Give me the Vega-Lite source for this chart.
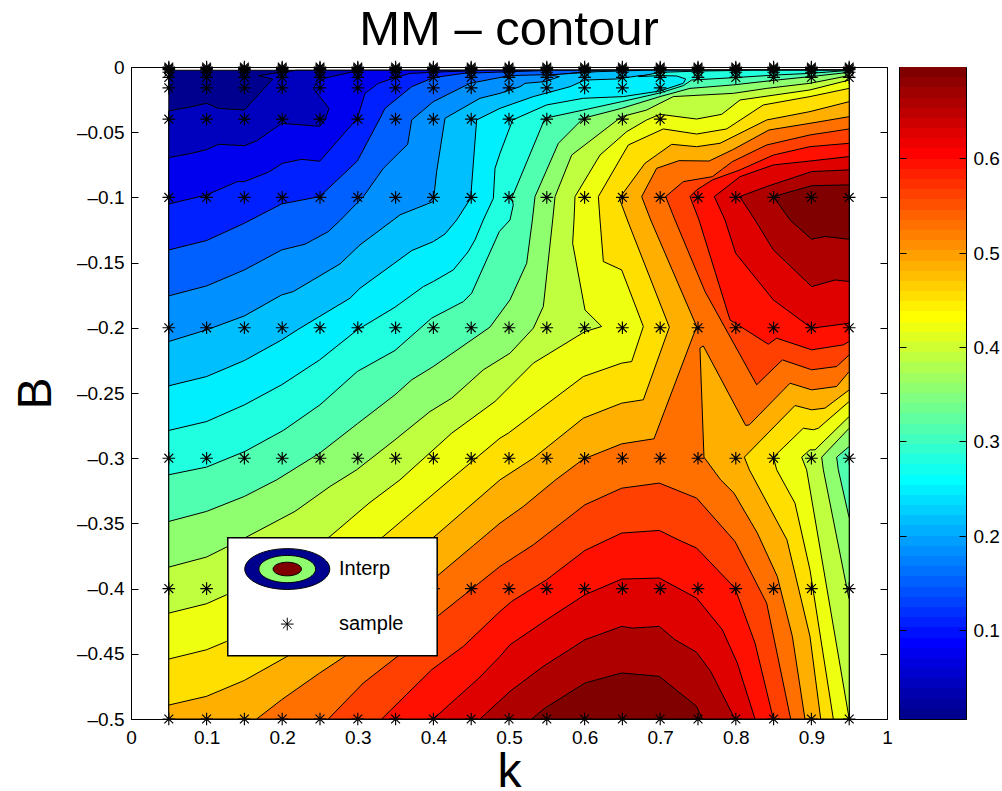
{"$schema":"https://vega.github.io/schema/vega-lite/v6.json","background":"white","padding":{"left":11,"top":5,"right":2,"bottom":0},"spacing":5,"config":{"view":{"stroke":"black","strokeWidth":1},"axis":{"grid":false,"domain":false,"labelFlush":false,"tickColor":"black","tickWidth":1,"labelFont":"Liberation Sans","labelFontSize":19,"labelColor":"black","titleFont":"Liberation Sans","titleFontSize":48,"titleFontWeight":"normal","titleColor":"black"}},"datasets":{"polys":[
{"l":0,"p":"0","k":0.05,"B":-0.0025},{"l":0,"p":"0","k":0.95,"B":-0.0025},{"l":0,"p":"0","k":0.95,"B":-0.5},{"l":0,"p":"0","k":0.05,"B":-0.5},{"l":0,"p":"0","k":0.05,"B":-0.0025},
{"l":1,"p":"1","k":0.05,"B":-0.0337},{"l":1,"p":"1","k":0.0802,"B":-0.0304},{"l":1,"p":"1","k":0.1,"B":-0.0278},{"l":1,"p":"1","k":0.1155,"B":-0.0317},{"l":1,"p":"1","k":0.15,"B":-0.033},{"l":1,"p":"1","k":0.1874,"B":-0.0092},{"l":1,"p":"1","k":0.1684,"B":-0.0066},{"l":1,"p":"1","k":0.1883,"B":-0.0049},{"l":1,"p":"1","k":0.2191,"B":-0.0025},{"l":1,"p":"1","k":0.95,"B":-0.0025},{"l":1,"p":"1","k":0.95,"B":-0.5},{"l":1,"p":"1","k":0.05,"B":-0.5},{"l":1,"p":"1","k":0.05,"B":-0.0337},
{"l":2,"p":"2","k":0.05,"B":-0.0695},{"l":2,"p":"2","k":0.0802,"B":-0.0662},{"l":2,"p":"2","k":0.1,"B":-0.0634},{"l":2,"p":"2","k":0.1155,"B":-0.0593},{"l":2,"p":"2","k":0.15,"B":-0.0603},{"l":2,"p":"2","k":0.1662,"B":-0.0567},{"l":2,"p":"2","k":0.1993,"B":-0.0432},{"l":2,"p":"2","k":0.2496,"B":-0.0455},{"l":2,"p":"2","k":0.2566,"B":-0.0406},{"l":2,"p":"2","k":0.2619,"B":-0.0317},{"l":2,"p":"2","k":0.2412,"B":-0.0164},{"l":2,"p":"2","k":0.2456,"B":-0.0125},{"l":2,"p":"2","k":0.2588,"B":-0.0082},{"l":2,"p":"2","k":0.2941,"B":-0.0036},{"l":2,"p":"2","k":0.3,"B":-0.0025},{"l":2,"p":"2","k":0.95,"B":-0.0025},{"l":2,"p":"2","k":0.95,"B":-0.5},{"l":2,"p":"2","k":0.05,"B":-0.5},{"l":2,"p":"2","k":0.05,"B":-0.0695},
{"l":3,"p":"3","k":0.05,"B":-0.105},{"l":3,"p":"3","k":0.1,"B":-0.0981},{"l":3,"p":"3","k":0.1407,"B":-0.0879},{"l":3,"p":"3","k":0.15,"B":-0.0879},{"l":3,"p":"3","k":0.1817,"B":-0.0807},{"l":3,"p":"3","k":0.2006,"B":-0.0738},{"l":3,"p":"3","k":0.2258,"B":-0.0708},{"l":3,"p":"3","k":0.2496,"B":-0.0723},{"l":3,"p":"3","k":0.2994,"B":-0.0393},{"l":3,"p":"3","k":0.3095,"B":-0.0202},{"l":3,"p":"3","k":0.3272,"B":-0.0125},{"l":3,"p":"3","k":0.3492,"B":-0.0082},{"l":3,"p":"3","k":0.3691,"B":-0.0049},{"l":3,"p":"3","k":0.4176,"B":-0.0036},{"l":3,"p":"3","k":0.47,"B":-0.0025},{"l":3,"p":"3","k":0.95,"B":-0.0025},{"l":3,"p":"3","k":0.95,"B":-0.5},{"l":3,"p":"3","k":0.05,"B":-0.5},{"l":3,"p":"3","k":0.05,"B":-0.105},
{"l":4,"p":"4","k":0.05,"B":-0.1403},{"l":4,"p":"4","k":0.1,"B":-0.1331},{"l":4,"p":"4","k":0.15,"B":-0.1198},{"l":4,"p":"4","k":0.1993,"B":-0.105},{"l":4,"p":"4","k":0.2496,"B":-0.0994},{"l":4,"p":"4","k":0.2994,"B":-0.0721},{"l":4,"p":"4","k":0.3294,"B":-0.0393},{"l":4,"p":"4","k":0.336,"B":-0.0317},{"l":4,"p":"4","k":0.3713,"B":-0.0151},{"l":4,"p":"4","k":0.3999,"B":-0.0082},{"l":4,"p":"4","k":0.4396,"B":-0.0049},{"l":4,"p":"4","k":0.5013,"B":-0.0036},{"l":4,"p":"4","k":0.56,"B":-0.0025},{"l":4,"p":"4","k":0.95,"B":-0.0025},{"l":4,"p":"4","k":0.95,"B":-0.5},{"l":4,"p":"4","k":0.05,"B":-0.5},{"l":4,"p":"4","k":0.05,"B":-0.1403},
{"l":5,"p":"5","k":0.05,"B":-0.1755},{"l":5,"p":"5","k":0.1,"B":-0.1679},{"l":5,"p":"5","k":0.15,"B":-0.1556},{"l":5,"p":"5","k":0.1993,"B":-0.1403},{"l":5,"p":"5","k":0.2302,"B":-0.1359},{"l":5,"p":"5","k":0.261,"B":-0.1262},{"l":5,"p":"5","k":0.2773,"B":-0.1173},{"l":5,"p":"5","k":0.3073,"B":-0.0994},{"l":5,"p":"5","k":0.3338,"B":-0.0777},{"l":5,"p":"5","k":0.3537,"B":-0.0662},{"l":5,"p":"5","k":0.366,"B":-0.0593},{"l":5,"p":"5","k":0.3713,"B":-0.0406},{"l":5,"p":"5","k":0.3999,"B":-0.0266},{"l":5,"p":"5","k":0.4484,"B":-0.0125},{"l":5,"p":"5","k":0.5013,"B":-0.0066},{"l":5,"p":"5","k":0.5675,"B":-0.0056},{"l":5,"p":"5","k":0.62,"B":-0.0025},{"l":5,"p":"5","k":0.95,"B":-0.0025},{"l":5,"p":"5","k":0.95,"B":-0.5},{"l":5,"p":"5","k":0.05,"B":-0.5},{"l":5,"p":"5","k":0.05,"B":-0.1755},
{"l":6,"p":"6","k":0.05,"B":-0.2105},{"l":6,"p":"6","k":0.1,"B":-0.2016},{"l":6,"p":"6","k":0.15,"B":-0.1909},{"l":6,"p":"6","k":0.1993,"B":-0.1748},{"l":6,"p":"6","k":0.2147,"B":-0.1722},{"l":6,"p":"6","k":0.2765,"B":-0.151},{"l":6,"p":"6","k":0.3029,"B":-0.1364},{"l":6,"p":"6","k":0.347,"B":-0.1173},{"l":6,"p":"6","k":0.3558,"B":-0.1134},{"l":6,"p":"6","k":0.3999,"B":-0.1032},{"l":6,"p":"6","k":0.4043,"B":-0.0802},{"l":6,"p":"6","k":0.4154,"B":-0.0393},{"l":6,"p":"6","k":0.4616,"B":-0.024},{"l":6,"p":"6","k":0.4881,"B":-0.0202},{"l":6,"p":"6","k":0.5146,"B":-0.0151},{"l":6,"p":"6","k":0.5212,"B":-0.0125},{"l":6,"p":"6","k":0.5476,"B":-0.0112},{"l":6,"p":"6","k":0.5666,"B":-0.0074},{"l":6,"p":"6","k":0.5543,"B":-0.0061},{"l":6,"p":"6","k":0.616,"B":-0.0036},{"l":6,"p":"6","k":0.68,"B":-0.0025},{"l":6,"p":"6","k":0.95,"B":-0.0025},{"l":6,"p":"6","k":0.95,"B":-0.5},{"l":6,"p":"6","k":0.05,"B":-0.5},{"l":6,"p":"6","k":0.05,"B":-0.2105},
{"l":7,"p":"7","k":0.05,"B":-0.2445},{"l":7,"p":"7","k":0.1,"B":-0.2374},{"l":7,"p":"7","k":0.15,"B":-0.2251},{"l":7,"p":"7","k":0.1993,"B":-0.2093},{"l":7,"p":"7","k":0.2236,"B":-0.2003},{"l":7,"p":"7","k":0.2897,"B":-0.1773},{"l":7,"p":"7","k":0.3029,"B":-0.1697},{"l":7,"p":"7","k":0.3713,"B":-0.1408},{"l":7,"p":"7","k":0.3999,"B":-0.1339},{"l":7,"p":"7","k":0.4154,"B":-0.128},{"l":7,"p":"7","k":0.4308,"B":-0.1173},{"l":7,"p":"7","k":0.4493,"B":-0.1007},{"l":7,"p":"7","k":0.4572,"B":-0.0406},{"l":7,"p":"7","k":0.4881,"B":-0.0317},{"l":7,"p":"7","k":0.5322,"B":-0.0227},{"l":7,"p":"7","k":0.5807,"B":-0.0151},{"l":7,"p":"7","k":0.6005,"B":-0.01},{"l":7,"p":"7","k":0.6424,"B":-0.0092},{"l":7,"p":"7","k":0.6733,"B":-0.0066},{"l":7,"p":"7","k":0.7483,"B":-0.0036},{"l":7,"p":"7","k":0.8,"B":-0.0025},{"l":7,"p":"7","k":0.95,"B":-0.0025},{"l":7,"p":"7","k":0.95,"B":-0.5},{"l":7,"p":"7","k":0.05,"B":-0.5},{"l":7,"p":"7","k":0.05,"B":-0.2445},
{"l":8,"p":"8","k":0.05,"B":-0.2787},{"l":8,"p":"8","k":0.1,"B":-0.2719},{"l":8,"p":"8","k":0.15,"B":-0.2591},{"l":8,"p":"8","k":0.1993,"B":-0.2437},{"l":8,"p":"8","k":0.2496,"B":-0.2246},{"l":8,"p":"8","k":0.2994,"B":-0.2016},{"l":8,"p":"8","k":0.3492,"B":-0.1842},{"l":8,"p":"8","k":0.3867,"B":-0.1684},{"l":8,"p":"8","k":0.3999,"B":-0.1645},{"l":8,"p":"8","k":0.4264,"B":-0.1556},{"l":8,"p":"8","k":0.4462,"B":-0.1415},{"l":8,"p":"8","k":0.455,"B":-0.1326},{"l":8,"p":"8","k":0.466,"B":-0.1173},{"l":8,"p":"8","k":0.4793,"B":-0.1007},{"l":8,"p":"8","k":0.4815,"B":-0.0777},{"l":8,"p":"8","k":0.4881,"B":-0.0662},{"l":8,"p":"8","k":0.5048,"B":-0.0406},{"l":8,"p":"8","k":0.5498,"B":-0.0291},{"l":8,"p":"8","k":0.5983,"B":-0.024},{"l":8,"p":"8","k":0.6512,"B":-0.0227},{"l":8,"p":"8","k":0.6997,"B":-0.0184},{"l":8,"p":"8","k":0.7306,"B":-0.0125},{"l":8,"p":"8","k":0.7337,"B":-0.0092},{"l":8,"p":"8","k":0.7218,"B":-0.0069},{"l":8,"p":"8","k":0.6997,"B":-0.0066},{"l":8,"p":"8","k":0.6711,"B":-0.0074},{"l":8,"p":"8","k":0.6997,"B":-0.0041},{"l":8,"p":"8","k":0.7526,"B":-0.0031},{"l":8,"p":"8","k":0.82,"B":-0.0025},{"l":8,"p":"8","k":0.95,"B":-0.0025},{"l":8,"p":"8","k":0.95,"B":-0.5},{"l":8,"p":"8","k":0.05,"B":-0.5},{"l":8,"p":"8","k":0.05,"B":-0.2787},
{"l":9,"p":"9","k":0.05,"B":-0.3127},{"l":9,"p":"9","k":0.1,"B":-0.3068},{"l":9,"p":"9","k":0.1508,"B":-0.2948},{"l":9,"p":"9","k":0.2015,"B":-0.2787},{"l":9,"p":"9","k":0.25,"B":-0.2591},{"l":9,"p":"9","k":0.2994,"B":-0.2335},{"l":9,"p":"9","k":0.3492,"B":-0.2174},{"l":9,"p":"9","k":0.3977,"B":-0.1926},{"l":9,"p":"9","k":0.4396,"B":-0.1799},{"l":9,"p":"9","k":0.4506,"B":-0.1735},{"l":9,"p":"9","k":0.4872,"B":-0.1262},{"l":9,"p":"9","k":0.5013,"B":-0.1173},{"l":9,"p":"9","k":0.5057,"B":-0.1058},{"l":9,"p":"9","k":0.5035,"B":-0.1007},{"l":9,"p":"9","k":0.5476,"B":-0.0393},{"l":9,"p":"9","k":0.5983,"B":-0.033},{"l":9,"p":"9","k":0.649,"B":-0.0266},{"l":9,"p":"9","k":0.6997,"B":-0.0199},{"l":9,"p":"9","k":0.7306,"B":-0.0143},{"l":9,"p":"9","k":0.7416,"B":-0.01},{"l":9,"p":"9","k":0.7967,"B":-0.0082},{"l":9,"p":"9","k":0.8541,"B":-0.0061},{"l":9,"p":"9","k":0.8981,"B":-0.0049},{"l":9,"p":"9","k":0.95,"B":-0.0026},{"l":9,"p":"9","k":0.95,"B":-0.5},{"l":9,"p":"9","k":0.05,"B":-0.5},{"l":9,"p":"9","k":0.05,"B":-0.3127},
{"l":10,"p":"10","k":0.05,"B":-0.3485},{"l":10,"p":"10","k":0.1,"B":-0.3408},{"l":10,"p":"10","k":0.15,"B":-0.3293},{"l":10,"p":"10","k":0.1927,"B":-0.3166},{"l":10,"p":"10","k":0.2496,"B":-0.2961},{"l":10,"p":"10","k":0.2994,"B":-0.2736},{"l":10,"p":"10","k":0.3492,"B":-0.2514},{"l":10,"p":"10","k":0.3713,"B":-0.2399},{"l":10,"p":"10","k":0.3999,"B":-0.2297},{"l":10,"p":"10","k":0.4748,"B":-0.1995},{"l":10,"p":"10","k":0.5013,"B":-0.1786},{"l":10,"p":"10","k":0.5234,"B":-0.1505},{"l":10,"p":"10","k":0.5309,"B":-0.1173},{"l":10,"p":"10","k":0.5344,"B":-0.0994},{"l":10,"p":"10","k":0.5653,"B":-0.0585},{"l":10,"p":"10","k":0.5983,"B":-0.0393},{"l":10,"p":"10","k":0.649,"B":-0.0317},{"l":10,"p":"10","k":0.6997,"B":-0.0227},{"l":10,"p":"10","k":0.7394,"B":-0.0164},{"l":10,"p":"10","k":0.7954,"B":-0.0138},{"l":10,"p":"10","k":0.8541,"B":-0.01},{"l":10,"p":"10","k":0.8981,"B":-0.0074},{"l":10,"p":"10","k":0.95,"B":-0.0041},{"l":10,"p":"10","k":0.95,"B":-0.291},{"l":10,"p":"10","k":0.9334,"B":-0.2992},{"l":10,"p":"10","k":0.9356,"B":-0.3089},{"l":10,"p":"10","k":0.95,"B":-0.3459},{"l":10,"p":"10","k":0.95,"B":-0.5},{"l":10,"p":"10","k":0.05,"B":-0.5},{"l":10,"p":"10","k":0.05,"B":-0.3485},
{"l":11,"p":"11","k":0.05,"B":-0.3835},{"l":11,"p":"11","k":0.1,"B":-0.3758},{"l":11,"p":"11","k":0.15,"B":-0.3613},{"l":11,"p":"11","k":0.2169,"B":-0.3408},{"l":11,"p":"11","k":0.2632,"B":-0.3217},{"l":11,"p":"11","k":0.2985,"B":-0.3089},{"l":11,"p":"11","k":0.3492,"B":-0.2859},{"l":11,"p":"11","k":0.3955,"B":-0.2642},{"l":11,"p":"11","k":0.4242,"B":-0.254},{"l":11,"p":"11","k":0.4661,"B":-0.2322},{"l":11,"p":"11","k":0.5013,"B":-0.2195},{"l":11,"p":"11","k":0.5322,"B":-0.2003},{"l":11,"p":"11","k":0.5454,"B":-0.1837},{"l":11,"p":"11","k":0.5578,"B":-0.1173},{"l":11,"p":"11","k":0.5609,"B":-0.0994},{"l":11,"p":"11","k":0.5829,"B":-0.0675},{"l":11,"p":"11","k":0.649,"B":-0.0381},{"l":11,"p":"11","k":0.6821,"B":-0.033},{"l":11,"p":"11","k":0.6997,"B":-0.0278},{"l":11,"p":"11","k":0.7174,"B":-0.0227},{"l":11,"p":"11","k":0.7967,"B":-0.0202},{"l":11,"p":"11","k":0.8409,"B":-0.0164},{"l":11,"p":"11","k":0.8981,"B":-0.0125},{"l":11,"p":"11","k":0.95,"B":-0.0066},{"l":11,"p":"11","k":0.95,"B":-0.277},{"l":11,"p":"11","k":0.9136,"B":-0.2992},{"l":11,"p":"11","k":0.9158,"B":-0.3089},{"l":11,"p":"11","k":0.95,"B":-0.4086},{"l":11,"p":"11","k":0.95,"B":-0.5},{"l":11,"p":"11","k":0.05,"B":-0.5},{"l":11,"p":"11","k":0.05,"B":-0.3835},
{"l":12,"p":"12","k":0.05,"B":-0.4188},{"l":12,"p":"12","k":0.1,"B":-0.4116},{"l":12,"p":"12","k":0.1265,"B":-0.4047},{"l":12,"p":"12","k":0.1993,"B":-0.383},{"l":12,"p":"12","k":0.2632,"B":-0.36},{"l":12,"p":"12","k":0.3148,"B":-0.3345},{"l":12,"p":"12","k":0.3558,"B":-0.3166},{"l":12,"p":"12","k":0.4242,"B":-0.2808},{"l":12,"p":"12","k":0.4815,"B":-0.2565},{"l":12,"p":"12","k":0.5322,"B":-0.2271},{"l":12,"p":"12","k":0.6005,"B":-0.2029},{"l":12,"p":"12","k":0.6226,"B":-0.199},{"l":12,"p":"12","k":0.6005,"B":-0.1863},{"l":12,"p":"12","k":0.5842,"B":-0.1352},{"l":12,"p":"12","k":0.586,"B":-0.1173},{"l":12,"p":"12","k":0.5873,"B":-0.0994},{"l":12,"p":"12","k":0.6204,"B":-0.0675},{"l":12,"p":"12","k":0.6556,"B":-0.0496},{"l":12,"p":"12","k":0.6821,"B":-0.0406},{"l":12,"p":"12","k":0.6997,"B":-0.0363},{"l":12,"p":"12","k":0.7482,"B":-0.0399},{"l":12,"p":"12","k":0.7813,"B":-0.0363},{"l":12,"p":"12","k":0.8056,"B":-0.0253},{"l":12,"p":"12","k":0.8981,"B":-0.0176},{"l":12,"p":"12","k":0.95,"B":-0.01},{"l":12,"p":"12","k":0.95,"B":-0.268},{"l":12,"p":"12","k":0.9048,"B":-0.2936},{"l":12,"p":"12","k":0.8981,"B":-0.2936},{"l":12,"p":"12","k":0.8871,"B":-0.2992},{"l":12,"p":"12","k":0.8937,"B":-0.3089},{"l":12,"p":"12","k":0.95,"B":-0.5},{"l":12,"p":"12","k":0.05,"B":-0.5},{"l":12,"p":"12","k":0.05,"B":-0.4188},
{"l":13,"p":"13","k":0.05,"B":-0.454},{"l":13,"p":"13","k":0.1,"B":-0.4469},{"l":13,"p":"13","k":0.1265,"B":-0.4405},{"l":13,"p":"13","k":0.3338,"B":-0.36},{"l":13,"p":"13","k":0.422,"B":-0.3166},{"l":13,"p":"13","k":0.4881,"B":-0.2846},{"l":13,"p":"13","k":0.4991,"B":-0.2808},{"l":13,"p":"13","k":0.5983,"B":-0.2374},{"l":13,"p":"13","k":0.649,"B":-0.2271},{"l":13,"p":"13","k":0.6623,"B":-0.2259},{"l":13,"p":"13","k":0.6777,"B":-0.199},{"l":13,"p":"13","k":0.649,"B":-0.1556},{"l":13,"p":"13","k":0.6248,"B":-0.1492},{"l":13,"p":"13","k":0.6204,"B":-0.1173},{"l":13,"p":"13","k":0.6182,"B":-0.0994},{"l":13,"p":"13","k":0.6578,"B":-0.0598},{"l":13,"p":"13","k":0.7041,"B":-0.0475},{"l":13,"p":"13","k":0.7482,"B":-0.0514},{"l":13,"p":"13","k":0.7879,"B":-0.0475},{"l":13,"p":"13","k":0.8364,"B":-0.0291},{"l":13,"p":"13","k":0.8981,"B":-0.0227},{"l":13,"p":"13","k":0.95,"B":-0.0164},{"l":13,"p":"13","k":0.95,"B":-0.2565},{"l":13,"p":"13","k":0.9092,"B":-0.277},{"l":13,"p":"13","k":0.9026,"B":-0.2782},{"l":13,"p":"13","k":0.8893,"B":-0.277},{"l":13,"p":"13","k":0.8497,"B":-0.2992},{"l":13,"p":"13","k":0.8541,"B":-0.3089},{"l":13,"p":"13","k":0.8783,"B":-0.3345},{"l":13,"p":"13","k":0.8981,"B":-0.3856},{"l":13,"p":"13","k":0.929,"B":-0.5},{"l":13,"p":"13","k":0.05,"B":-0.5},{"l":13,"p":"13","k":0.05,"B":-0.454},
{"l":14,"p":"14","k":0.05,"B":-0.4893},{"l":14,"p":"14","k":0.1,"B":-0.4826},{"l":14,"p":"14","k":0.15,"B":-0.4704},{"l":14,"p":"14","k":0.2081,"B":-0.4515},{"l":14,"p":"14","k":0.4043,"B":-0.3587},{"l":14,"p":"14","k":0.4881,"B":-0.3166},{"l":14,"p":"14","k":0.5322,"B":-0.3},{"l":14,"p":"14","k":0.5983,"B":-0.2693},{"l":14,"p":"14","k":0.649,"B":-0.2578},{"l":14,"p":"14","k":0.6777,"B":-0.2552},{"l":14,"p":"14","k":0.7121,"B":-0.1995},{"l":14,"p":"14","k":0.6565,"B":-0.1173},{"l":14,"p":"14","k":0.6459,"B":-0.1007},{"l":14,"p":"14","k":0.6799,"B":-0.0738},{"l":14,"p":"14","k":0.7152,"B":-0.0593},{"l":14,"p":"14","k":0.7482,"B":-0.0611},{"l":14,"p":"14","k":0.7791,"B":-0.0585},{"l":14,"p":"14","k":0.8409,"B":-0.0406},{"l":14,"p":"14","k":0.8981,"B":-0.0342},{"l":14,"p":"14","k":0.95,"B":-0.0266},{"l":14,"p":"14","k":0.95,"B":-0.2476},{"l":14,"p":"14","k":0.918,"B":-0.2616},{"l":14,"p":"14","k":0.9004,"B":-0.2629},{"l":14,"p":"14","k":0.8783,"B":-0.2596},{"l":14,"p":"14","k":0.8113,"B":-0.2992},{"l":14,"p":"14","k":0.8179,"B":-0.3089},{"l":14,"p":"14","k":0.8677,"B":-0.3626},{"l":14,"p":"14","k":0.8981,"B":-0.4366},{"l":14,"p":"14","k":0.9123,"B":-0.5},{"l":14,"p":"14","k":0.05,"B":-0.5},{"l":14,"p":"14","k":0.05,"B":-0.4893},
{"l":15,"p":"15","k":0.1662,"B":-0.5},{"l":15,"p":"15","k":0.1993,"B":-0.4852},{"l":15,"p":"15","k":0.2496,"B":-0.4647},{"l":15,"p":"15","k":0.284,"B":-0.4515},{"l":15,"p":"15","k":0.4043,"B":-0.3907},{"l":15,"p":"15","k":0.4881,"B":-0.3498},{"l":15,"p":"15","k":0.519,"B":-0.337},{"l":15,"p":"15","k":0.5617,"B":-0.3166},{"l":15,"p":"15","k":0.5983,"B":-0.3007},{"l":15,"p":"15","k":0.649,"B":-0.289},{"l":15,"p":"15","k":0.6918,"B":-0.2851},{"l":15,"p":"15","k":0.7482,"B":-0.199},{"l":15,"p":"15","k":0.6874,"B":-0.1173},{"l":15,"p":"15","k":0.6755,"B":-0.0994},{"l":15,"p":"15","k":0.6953,"B":-0.0777},{"l":15,"p":"15","k":0.7249,"B":-0.0718},{"l":15,"p":"15","k":0.7646,"B":-0.0721},{"l":15,"p":"15","k":0.7954,"B":-0.0636},{"l":15,"p":"15","k":0.8439,"B":-0.0483},{"l":15,"p":"15","k":0.8981,"B":-0.0432},{"l":15,"p":"15","k":0.95,"B":-0.0381},{"l":15,"p":"15","k":0.95,"B":-0.2335},{"l":15,"p":"15","k":0.9334,"B":-0.245},{"l":15,"p":"15","k":0.9004,"B":-0.2476},{"l":15,"p":"15","k":0.8717,"B":-0.2425},{"l":15,"p":"15","k":0.8179,"B":-0.2744},{"l":15,"p":"15","k":0.8131,"B":-0.2749},{"l":15,"p":"15","k":0.757,"B":-0.2139},{"l":15,"p":"15","k":0.7526,"B":-0.2156},{"l":15,"p":"15","k":0.7579,"B":-0.2992},{"l":15,"p":"15","k":0.78,"B":-0.3166},{"l":15,"p":"15","k":0.7976,"B":-0.3268},{"l":15,"p":"15","k":0.8285,"B":-0.3574},{"l":15,"p":"15","k":0.8549,"B":-0.3907},{"l":15,"p":"15","k":0.8748,"B":-0.4366},{"l":15,"p":"15","k":0.8915,"B":-0.5},{"l":15,"p":"15","k":0.1662,"B":-0.5},
{"l":16,"p":"16a","k":0.95,"B":-0.0475},{"l":16,"p":"16a","k":0.8981,"B":-0.0521},{"l":16,"p":"16a","k":0.8408,"B":-0.0598},{"l":16,"p":"16a","k":0.7954,"B":-0.0726},{"l":16,"p":"16a","k":0.769,"B":-0.0841},{"l":16,"p":"16a","k":0.7306,"B":-0.0879},{"l":16,"p":"16a","k":0.7072,"B":-0.0994},{"l":16,"p":"16a","k":0.7196,"B":-0.1173},{"l":16,"p":"16a","k":0.7593,"B":-0.1722},{"l":16,"p":"16a","k":0.8276,"B":-0.2437},{"l":16,"p":"16a","k":0.8616,"B":-0.2246},{"l":16,"p":"16a","k":0.9004,"B":-0.2322},{"l":16,"p":"16a","k":0.9334,"B":-0.2297},{"l":16,"p":"16a","k":0.95,"B":-0.2208},{"l":16,"p":"16a","k":0.95,"B":-0.0475},
{"l":16,"p":"16b","k":0.261,"B":-0.5},{"l":16,"p":"16b","k":0.3073,"B":-0.4724},{"l":16,"p":"16b","k":0.3536,"B":-0.4515},{"l":16,"p":"16b","k":0.4052,"B":-0.4213},{"l":16,"p":"16b","k":0.4881,"B":-0.383},{"l":16,"p":"16b","k":0.5322,"B":-0.3664},{"l":16,"p":"16b","k":0.6005,"B":-0.3357},{"l":16,"p":"16b","k":0.649,"B":-0.323},{"l":16,"p":"16b","k":0.6988,"B":-0.3191},{"l":16,"p":"16b","k":0.7482,"B":-0.3306},{"l":16,"p":"16b","k":0.7989,"B":-0.3638},{"l":16,"p":"16b","k":0.8408,"B":-0.4111},{"l":16,"p":"16b","k":0.8726,"B":-0.5},{"l":16,"p":"16b","k":0.261,"B":-0.5},
{"l":17,"p":"17a","k":0.95,"B":-0.0585},{"l":17,"p":"17a","k":0.8981,"B":-0.0611},{"l":17,"p":"17a","k":0.8497,"B":-0.0675},{"l":17,"p":"17a","k":0.8056,"B":-0.0789},{"l":17,"p":"17a","k":0.769,"B":-0.0866},{"l":17,"p":"17a","k":0.7482,"B":-0.0943},{"l":17,"p":"17a","k":0.7394,"B":-0.0994},{"l":17,"p":"17a","k":0.7513,"B":-0.1173},{"l":17,"p":"17a","k":0.7923,"B":-0.1939},{"l":17,"p":"17a","k":0.843,"B":-0.2126},{"l":17,"p":"17a","k":0.8541,"B":-0.208},{"l":17,"p":"17a","k":0.9004,"B":-0.2169},{"l":17,"p":"17a","k":0.9422,"B":-0.2131},{"l":17,"p":"17a","k":0.95,"B":-0.2105},{"l":17,"p":"17a","k":0.95,"B":-0.0585},
{"l":17,"p":"17b","k":0.3316,"B":-0.5},{"l":17,"p":"17b","k":0.3977,"B":-0.4622},{"l":17,"p":"17b","k":0.4396,"B":-0.4443},{"l":17,"p":"17b","k":0.4881,"B":-0.4175},{"l":17,"p":"17b","k":0.5035,"B":-0.4098},{"l":17,"p":"17b","k":0.5498,"B":-0.3932},{"l":17,"p":"17b","k":0.6005,"B":-0.3707},{"l":17,"p":"17b","k":0.649,"B":-0.3574},{"l":17,"p":"17b","k":0.6988,"B":-0.3554},{"l":17,"p":"17b","k":0.7284,"B":-0.3638},{"l":17,"p":"17b","k":0.7482,"B":-0.3689},{"l":17,"p":"17b","k":0.7989,"B":-0.3996},{"l":17,"p":"17b","k":0.8254,"B":-0.4418},{"l":17,"p":"17b","k":0.8497,"B":-0.5},{"l":17,"p":"17b","k":0.3316,"B":-0.5},
{"l":18,"p":"18a","k":0.95,"B":-0.0687},{"l":18,"p":"18a","k":0.8981,"B":-0.0721},{"l":18,"p":"18a","k":0.8497,"B":-0.0751},{"l":18,"p":"18a","k":0.8056,"B":-0.0841},{"l":18,"p":"18a","k":0.7716,"B":-0.0994},{"l":18,"p":"18a","k":0.7857,"B":-0.1173},{"l":18,"p":"18a","k":0.7998,"B":-0.1428},{"l":18,"p":"18a","k":0.8497,"B":-0.1786},{"l":18,"p":"18a","k":0.9004,"B":-0.2003},{"l":18,"p":"18a","k":0.95,"B":-0.1965},{"l":18,"p":"18a","k":0.95,"B":-0.0687},
{"l":18,"p":"18b","k":0.3999,"B":-0.5},{"l":18,"p":"18b","k":0.4603,"B":-0.4686},{"l":18,"p":"18b","k":0.4881,"B":-0.452},{"l":18,"p":"18b","k":0.5013,"B":-0.4431},{"l":18,"p":"18b","k":0.5498,"B":-0.4239},{"l":18,"p":"18b","k":0.6005,"B":-0.4047},{"l":18,"p":"18b","k":0.649,"B":-0.3927},{"l":18,"p":"18b","k":0.6988,"B":-0.3919},{"l":18,"p":"18b","k":0.7482,"B":-0.4073},{"l":18,"p":"18b","k":0.7822,"B":-0.4315},{"l":18,"p":"18b","k":0.802,"B":-0.4571},{"l":18,"p":"18b","k":0.8254,"B":-0.5},{"l":18,"p":"18b","k":0.3999,"B":-0.5},
{"l":19,"p":"19a","k":0.95,"B":-0.0789},{"l":19,"p":"19a","k":0.9004,"B":-0.0802},{"l":19,"p":"19a","k":0.8408,"B":-0.0917},{"l":19,"p":"19a","k":0.8051,"B":-0.0994},{"l":19,"p":"19a","k":0.8254,"B":-0.1173},{"l":19,"p":"19a","k":0.8497,"B":-0.1403},{"l":19,"p":"19a","k":0.9004,"B":-0.1684},{"l":19,"p":"19a","k":0.9312,"B":-0.1633},{"l":19,"p":"19a","k":0.95,"B":-0.1645},{"l":19,"p":"19a","k":0.95,"B":-0.0789},
{"l":19,"p":"19b","k":0.4616,"B":-0.5},{"l":19,"p":"19b","k":0.5013,"B":-0.4788},{"l":19,"p":"19b","k":0.5454,"B":-0.4596},{"l":19,"p":"19b","k":0.6005,"B":-0.4392},{"l":19,"p":"19b","k":0.649,"B":-0.429},{"l":19,"p":"19b","k":0.6631,"B":-0.4303},{"l":19,"p":"19b","k":0.6988,"B":-0.429},{"l":19,"p":"19b","k":0.7196,"B":-0.4392},{"l":19,"p":"19b","k":0.7482,"B":-0.4489},{"l":19,"p":"19b","k":0.7668,"B":-0.4635},{"l":19,"p":"19b","k":0.7989,"B":-0.5},{"l":19,"p":"19b","k":0.4616,"B":-0.5},
{"l":20,"p":"20a","k":0.95,"B":-0.0904},{"l":20,"p":"20a","k":0.9004,"B":-0.091},{"l":20,"p":"20a","k":0.8497,"B":-0.0994},{"l":20,"p":"20a","k":0.8717,"B":-0.1173},{"l":20,"p":"20a","k":0.9004,"B":-0.1321},{"l":20,"p":"20a","k":0.918,"B":-0.13},{"l":20,"p":"20a","k":0.95,"B":-0.1321},{"l":20,"p":"20a","k":0.95,"B":-0.0904},
{"l":20,"p":"20b","k":0.53,"B":-0.5},{"l":20,"p":"20b","k":0.5476,"B":-0.4916},{"l":20,"p":"20b","k":0.6005,"B":-0.4724},{"l":20,"p":"20b","k":0.649,"B":-0.4647},{"l":20,"p":"20b","k":0.6988,"B":-0.4673},{"l":20,"p":"20b","k":0.7482,"B":-0.4903},{"l":20,"p":"20b","k":0.7557,"B":-0.5},{"l":20,"p":"20b","k":0.53,"B":-0.5}
],"samples":[{"k":0.05,"B":0},{"k":0.05,"B":-0.001},{"k":0.05,"B":-0.002},{"k":0.05,"B":-0.004},{"k":0.05,"B":-0.008},{"k":0.05,"B":-0.016},{"k":0.05,"B":-0.04},{"k":0.05,"B":-0.1},{"k":0.05,"B":-0.2},{"k":0.05,"B":-0.3},{"k":0.05,"B":-0.4},{"k":0.05,"B":-0.5},
{"k":0.1,"B":0},{"k":0.1,"B":-0.001},{"k":0.1,"B":-0.002},{"k":0.1,"B":-0.004},{"k":0.1,"B":-0.008},{"k":0.1,"B":-0.016},{"k":0.1,"B":-0.04},{"k":0.1,"B":-0.1},{"k":0.1,"B":-0.2},{"k":0.1,"B":-0.3},{"k":0.1,"B":-0.4},{"k":0.1,"B":-0.5},
{"k":0.15,"B":0},{"k":0.15,"B":-0.001},{"k":0.15,"B":-0.002},{"k":0.15,"B":-0.004},{"k":0.15,"B":-0.008},{"k":0.15,"B":-0.016},{"k":0.15,"B":-0.04},{"k":0.15,"B":-0.1},{"k":0.15,"B":-0.2},{"k":0.15,"B":-0.3},{"k":0.15,"B":-0.4},{"k":0.15,"B":-0.5},
{"k":0.2,"B":0},{"k":0.2,"B":-0.001},{"k":0.2,"B":-0.002},{"k":0.2,"B":-0.004},{"k":0.2,"B":-0.008},{"k":0.2,"B":-0.016},{"k":0.2,"B":-0.04},{"k":0.2,"B":-0.1},{"k":0.2,"B":-0.2},{"k":0.2,"B":-0.3},{"k":0.2,"B":-0.4},{"k":0.2,"B":-0.5},
{"k":0.25,"B":0},{"k":0.25,"B":-0.001},{"k":0.25,"B":-0.002},{"k":0.25,"B":-0.004},{"k":0.25,"B":-0.008},{"k":0.25,"B":-0.016},{"k":0.25,"B":-0.04},{"k":0.25,"B":-0.1},{"k":0.25,"B":-0.2},{"k":0.25,"B":-0.3},{"k":0.25,"B":-0.4},{"k":0.25,"B":-0.5},
{"k":0.3,"B":0},{"k":0.3,"B":-0.001},{"k":0.3,"B":-0.002},{"k":0.3,"B":-0.004},{"k":0.3,"B":-0.008},{"k":0.3,"B":-0.016},{"k":0.3,"B":-0.04},{"k":0.3,"B":-0.1},{"k":0.3,"B":-0.2},{"k":0.3,"B":-0.3},{"k":0.3,"B":-0.4},{"k":0.3,"B":-0.5},
{"k":0.35,"B":0},{"k":0.35,"B":-0.001},{"k":0.35,"B":-0.002},{"k":0.35,"B":-0.004},{"k":0.35,"B":-0.008},{"k":0.35,"B":-0.016},{"k":0.35,"B":-0.04},{"k":0.35,"B":-0.1},{"k":0.35,"B":-0.2},{"k":0.35,"B":-0.3},{"k":0.35,"B":-0.4},{"k":0.35,"B":-0.5},
{"k":0.4,"B":0},{"k":0.4,"B":-0.001},{"k":0.4,"B":-0.002},{"k":0.4,"B":-0.004},{"k":0.4,"B":-0.008},{"k":0.4,"B":-0.016},{"k":0.4,"B":-0.04},{"k":0.4,"B":-0.1},{"k":0.4,"B":-0.2},{"k":0.4,"B":-0.3},{"k":0.4,"B":-0.4},{"k":0.4,"B":-0.5},
{"k":0.45,"B":0},{"k":0.45,"B":-0.001},{"k":0.45,"B":-0.002},{"k":0.45,"B":-0.004},{"k":0.45,"B":-0.008},{"k":0.45,"B":-0.016},{"k":0.45,"B":-0.04},{"k":0.45,"B":-0.1},{"k":0.45,"B":-0.2},{"k":0.45,"B":-0.3},{"k":0.45,"B":-0.4},{"k":0.45,"B":-0.5},
{"k":0.5,"B":0},{"k":0.5,"B":-0.001},{"k":0.5,"B":-0.002},{"k":0.5,"B":-0.004},{"k":0.5,"B":-0.008},{"k":0.5,"B":-0.016},{"k":0.5,"B":-0.04},{"k":0.5,"B":-0.1},{"k":0.5,"B":-0.2},{"k":0.5,"B":-0.3},{"k":0.5,"B":-0.4},{"k":0.5,"B":-0.5},
{"k":0.55,"B":0},{"k":0.55,"B":-0.001},{"k":0.55,"B":-0.002},{"k":0.55,"B":-0.004},{"k":0.55,"B":-0.008},{"k":0.55,"B":-0.016},{"k":0.55,"B":-0.04},{"k":0.55,"B":-0.1},{"k":0.55,"B":-0.2},{"k":0.55,"B":-0.3},{"k":0.55,"B":-0.4},{"k":0.55,"B":-0.5},
{"k":0.6,"B":0},{"k":0.6,"B":-0.001},{"k":0.6,"B":-0.002},{"k":0.6,"B":-0.004},{"k":0.6,"B":-0.008},{"k":0.6,"B":-0.016},{"k":0.6,"B":-0.04},{"k":0.6,"B":-0.1},{"k":0.6,"B":-0.2},{"k":0.6,"B":-0.3},{"k":0.6,"B":-0.4},{"k":0.6,"B":-0.5},
{"k":0.65,"B":0},{"k":0.65,"B":-0.001},{"k":0.65,"B":-0.002},{"k":0.65,"B":-0.004},{"k":0.65,"B":-0.008},{"k":0.65,"B":-0.016},{"k":0.65,"B":-0.04},{"k":0.65,"B":-0.1},{"k":0.65,"B":-0.2},{"k":0.65,"B":-0.3},{"k":0.65,"B":-0.4},{"k":0.65,"B":-0.5},
{"k":0.7,"B":0},{"k":0.7,"B":-0.001},{"k":0.7,"B":-0.002},{"k":0.7,"B":-0.004},{"k":0.7,"B":-0.008},{"k":0.7,"B":-0.016},{"k":0.7,"B":-0.04},{"k":0.7,"B":-0.1},{"k":0.7,"B":-0.2},{"k":0.7,"B":-0.3},{"k":0.7,"B":-0.4},{"k":0.7,"B":-0.5},
{"k":0.75,"B":0},{"k":0.75,"B":-0.001},{"k":0.75,"B":-0.002},{"k":0.75,"B":-0.004},{"k":0.75,"B":-0.008},{"k":0.75,"B":-0.1},{"k":0.75,"B":-0.2},{"k":0.75,"B":-0.3},{"k":0.75,"B":-0.4},{"k":0.75,"B":-0.5},
{"k":0.8,"B":0},{"k":0.8,"B":-0.001},{"k":0.8,"B":-0.002},{"k":0.8,"B":-0.004},{"k":0.8,"B":-0.008},{"k":0.8,"B":-0.1},{"k":0.8,"B":-0.2},{"k":0.8,"B":-0.3},{"k":0.8,"B":-0.4},{"k":0.8,"B":-0.5},
{"k":0.85,"B":0},{"k":0.85,"B":-0.001},{"k":0.85,"B":-0.002},{"k":0.85,"B":-0.004},{"k":0.85,"B":-0.008},{"k":0.85,"B":-0.1},{"k":0.85,"B":-0.2},{"k":0.85,"B":-0.3},{"k":0.85,"B":-0.4},{"k":0.85,"B":-0.5},
{"k":0.9,"B":0},{"k":0.9,"B":-0.001},{"k":0.9,"B":-0.002},{"k":0.9,"B":-0.004},{"k":0.9,"B":-0.008},{"k":0.9,"B":-0.1},{"k":0.9,"B":-0.2},{"k":0.9,"B":-0.3},{"k":0.9,"B":-0.4},{"k":0.9,"B":-0.5},
{"k":0.95,"B":0},{"k":0.95,"B":-0.001},{"k":0.95,"B":-0.002},{"k":0.95,"B":-0.004},{"k":0.95,"B":-0.008},{"k":0.95,"B":-0.1},{"k":0.95,"B":-0.2},{"k":0.95,"B":-0.3},{"k":0.95,"B":-0.4},{"k":0.95,"B":-0.5}
]},"hconcat":[{"width":756,"height":652,"title":{"text":"MM – contour","font":"Liberation Sans","fontSize":49,"fontWeight":"normal","color":"black","anchor":"middle","offset":3},"resolve":{"axis":{"x":"independent","y":"independent"}},"layer":[
{"data":{"name":"polys"},"mark":{"type":"line","stroke":"black","strokeWidth":1,"filled":true},"encoding":{"x":{"field":"k","type":"quantitative","scale":{"domain":[0,1],"nice":false,"zero":false},"axis":{"orient":"bottom","values":[0,0.1,0.2,0.3,0.4,0.5,0.6,0.7,0.8,0.9,1],"format":"~g","tickSize":-7,"labelPadding":16,"title":"k","titlePadding":1}},"y":{"field":"B","type":"quantitative","scale":{"domain":[-0.5,0],"nice":false,"zero":false},"axis":{"orient":"left","values":[0,-0.05,-0.1,-0.15,-0.2,-0.25,-0.3,-0.35,-0.4,-0.45,-0.5],"labelExpr":"datum.value==0?'0':'–'+format(-datum.value,'~g')","tickSize":-7,"labelPadding":14,"title":"B","titlePadding":16}},"fill":{"field":"l","type":"ordinal","legend":null,"scale":{"range":["#00008f","#0000bf","#0000ef","#0020ff","#0060ff","#0090ff","#00bfff","#00efff","#20ffdf","#50ffaf","#90ff6f","#bfff40","#efff10","#ffdf00","#ffaf00","#ff7000","#ff4000","#ff1000","#df0000","#af0000","#800000"]}},"detail":{"field":"p"},"order":{"value":null}}},
{"data":{"name":"samples"},"mark":{"type":"point","shape":"M-1,0L1,0M0,-1L0,1M-0.7,-0.7L0.7,0.7M-0.7,0.7L0.7,-0.7","size":160,"filled":false,"stroke":"black","strokeWidth":1.15,"opacity":1,"clip":false},"encoding":{"x":{"field":"k","type":"quantitative","axis":{"orient":"top","values":[0,0.1,0.2,0.3,0.4,0.5,0.6,0.7,0.8,0.9,1],"labels":false,"tickSize":-7,"title":null}},"y":{"field":"B","type":"quantitative","axis":{"orient":"right","values":[0,-0.05,-0.1,-0.15,-0.2,-0.25,-0.3,-0.35,-0.4,-0.45,-0.5],"labels":false,"tickSize":-7,"title":null}}}},
{"data":{"values":[{"k1":0.128,"k2":0.405,"B1":-0.361,"B2":-0.4515}]},"mark":{"type":"rect","fill":"white","stroke":"black","strokeWidth":1.5},"encoding":{"x":{"field":"k1","type":"quantitative","axis":null},"x2":{"field":"k2"},"y":{"field":"B1","type":"quantitative","axis":null},"y2":{"field":"B2"}}},
{"data":{"values":[{"k":0.2067,"B":-0.385}]},"mark":{"type":"point","shape":"M-1,0A1,0.48,0,1,0,1,0A1,0.48,0,1,0,-1,0Z","size":7225,"filled":true,"fill":"#00008f","stroke":"black","strokeWidth":1,"opacity":1},"encoding":{"x":{"field":"k","type":"quantitative","axis":null},"y":{"field":"B","type":"quantitative","axis":null}}},
{"data":{"values":[{"k":0.2067,"B":-0.385}]},"mark":{"type":"point","shape":"M-1,0A1,0.48,0,1,0,1,0A1,0.48,0,1,0,-1,0Z","size":3211,"filled":true,"fill":"#90ff6f","stroke":"black","strokeWidth":1,"opacity":1},"encoding":{"x":{"field":"k","type":"quantitative","axis":null},"y":{"field":"B","type":"quantitative","axis":null}}},
{"data":{"values":[{"k":0.2067,"B":-0.385}]},"mark":{"type":"point","shape":"M-1,0A1,0.48,0,1,0,1,0A1,0.48,0,1,0,-1,0Z","size":807,"filled":true,"fill":"#800000","stroke":"black","strokeWidth":1,"opacity":1},"encoding":{"x":{"field":"k","type":"quantitative","axis":null},"y":{"field":"B","type":"quantitative","axis":null}}},
{"data":{"values":[{"k":0.2067,"B":-0.4272}]},"mark":{"type":"point","shape":"M-1,0L1,0M0,-1L0,1M-0.7,-0.7L0.7,0.7M-0.7,0.7L0.7,-0.7","size":160,"filled":false,"stroke":"black","strokeWidth":1,"opacity":1},"encoding":{"x":{"field":"k","type":"quantitative","axis":null},"y":{"field":"B","type":"quantitative","axis":null}}},
{"data":{"values":[{"k":0.2751,"B":-0.385,"t":"Interp"},{"k":0.2751,"B":-0.4272,"t":"sample"}]},"mark":{"type":"text","align":"left","baseline":"middle","font":"Liberation Sans","fontSize":20,"color":"black"},"encoding":{"x":{"field":"k","type":"quantitative","axis":null},"y":{"field":"B","type":"quantitative","axis":null},"text":{"field":"t"}}}
]},{"width":67,"height":652,"resolve":{"axis":{"y":"independent"}},"data":{"values":[{"c":1,"v":0.0056,"w":0.0164},{"c":2,"v":0.0164,"w":0.0272},{"c":3,"v":0.0272,"w":0.038},{"c":4,"v":0.038,"w":0.0488},{"c":5,"v":0.0488,"w":0.0596},{"c":6,"v":0.0596,"w":0.0704},{"c":7,"v":0.0704,"w":0.0812},{"c":8,"v":0.0812,"w":0.092},{"c":9,"v":0.092,"w":0.1028},{"c":10,"v":0.1028,"w":0.1136},{"c":11,"v":0.1136,"w":0.1244},{"c":12,"v":0.1244,"w":0.1352},{"c":13,"v":0.1352,"w":0.146},{"c":14,"v":0.146,"w":0.1568},{"c":15,"v":0.1568,"w":0.1676},{"c":16,"v":0.1676,"w":0.1784},{"c":17,"v":0.1784,"w":0.1892},{"c":18,"v":0.1892,"w":0.2},{"c":19,"v":0.2,"w":0.2108},{"c":20,"v":0.2108,"w":0.2216},{"c":21,"v":0.2216,"w":0.2324},{"c":22,"v":0.2324,"w":0.2432},{"c":23,"v":0.2432,"w":0.254},{"c":24,"v":0.254,"w":0.2648},{"c":25,"v":0.2648,"w":0.2756},{"c":26,"v":0.2756,"w":0.2864},{"c":27,"v":0.2864,"w":0.2972},{"c":28,"v":0.2972,"w":0.308},{"c":29,"v":0.308,"w":0.3188},{"c":30,"v":0.3188,"w":0.3296},{"c":31,"v":0.3296,"w":0.3404},{"c":32,"v":0.3404,"w":0.3512},{"c":33,"v":0.3512,"w":0.362},{"c":34,"v":0.362,"w":0.3728},{"c":35,"v":0.3728,"w":0.3836},{"c":36,"v":0.3836,"w":0.3944},{"c":37,"v":0.3944,"w":0.4052},{"c":38,"v":0.4052,"w":0.416},{"c":39,"v":0.416,"w":0.4268},{"c":40,"v":0.4268,"w":0.4376},{"c":41,"v":0.4376,"w":0.4484},{"c":42,"v":0.4484,"w":0.4592},{"c":43,"v":0.4592,"w":0.47},{"c":44,"v":0.47,"w":0.4808},{"c":45,"v":0.4808,"w":0.4916},{"c":46,"v":0.4916,"w":0.5024},{"c":47,"v":0.5024,"w":0.5132},{"c":48,"v":0.5132,"w":0.524},{"c":49,"v":0.524,"w":0.5348},{"c":50,"v":0.5348,"w":0.5456},{"c":51,"v":0.5456,"w":0.5564},{"c":52,"v":0.5564,"w":0.5672},{"c":53,"v":0.5672,"w":0.578},{"c":54,"v":0.578,"w":0.5888},{"c":55,"v":0.5888,"w":0.5996},{"c":56,"v":0.5996,"w":0.6104},{"c":57,"v":0.6104,"w":0.6212},{"c":58,"v":0.6212,"w":0.632},{"c":59,"v":0.632,"w":0.6428},{"c":60,"v":0.6428,"w":0.6536},{"c":61,"v":0.6536,"w":0.6644},{"c":62,"v":0.6644,"w":0.6752},{"c":63,"v":0.6752,"w":0.686},{"c":64,"v":0.686,"w":0.6968}]},"layer":[
{"mark":{"type":"rect","strokeWidth":0},"encoding":{"y":{"field":"v","type":"quantitative","scale":{"domain":[0.0056,0.6968],"nice":false,"zero":false,"round":true},"axis":{"orient":"right","zindex":1,"domain":true,"domainColor":"black","values":[0.1,0.2,0.3,0.4,0.5,0.6],"format":"~g","tickSize":-7,"labelPadding":14,"title":null}},"y2":{"field":"w"},"color":{"field":"c","type":"ordinal","legend":null,"scale":{"range":["#00008f","#00009f","#0000af","#0000bf","#0000cf","#0000df","#0000ef","#0000ff","#0010ff","#0020ff","#0030ff","#0040ff","#0050ff","#0060ff","#0070ff","#0080ff","#008fff","#009fff","#00afff","#00bfff","#00cfff","#00dfff","#00efff","#00ffff","#10ffef","#20ffdf","#30ffcf","#40ffbf","#50ffaf","#60ff9f","#70ff8f","#80ff80","#8fff70","#9fff60","#afff50","#bfff40","#cfff30","#dfff20","#efff10","#ffff00","#ffef00","#ffdf00","#ffcf00","#ffbf00","#ffaf00","#ff9f00","#ff8f00","#ff8000","#ff7000","#ff6000","#ff5000","#ff4000","#ff3000","#ff2000","#ff1000","#ff0000","#ef0000","#df0000","#cf0000","#bf0000","#af0000","#9f0000","#8f0000","#800000"]}}}},
{"mark":{"type":"rule","opacity":0},"encoding":{"x":{"datum":0,"type":"quantitative","axis":null},"y":{"field":"v","type":"quantitative","axis":{"orient":"left","zindex":1,"domain":true,"domainColor":"black","values":[0.1,0.2,0.3,0.4,0.5,0.6],"labels":false,"tickSize":-7,"title":null}}}}
]}]}
